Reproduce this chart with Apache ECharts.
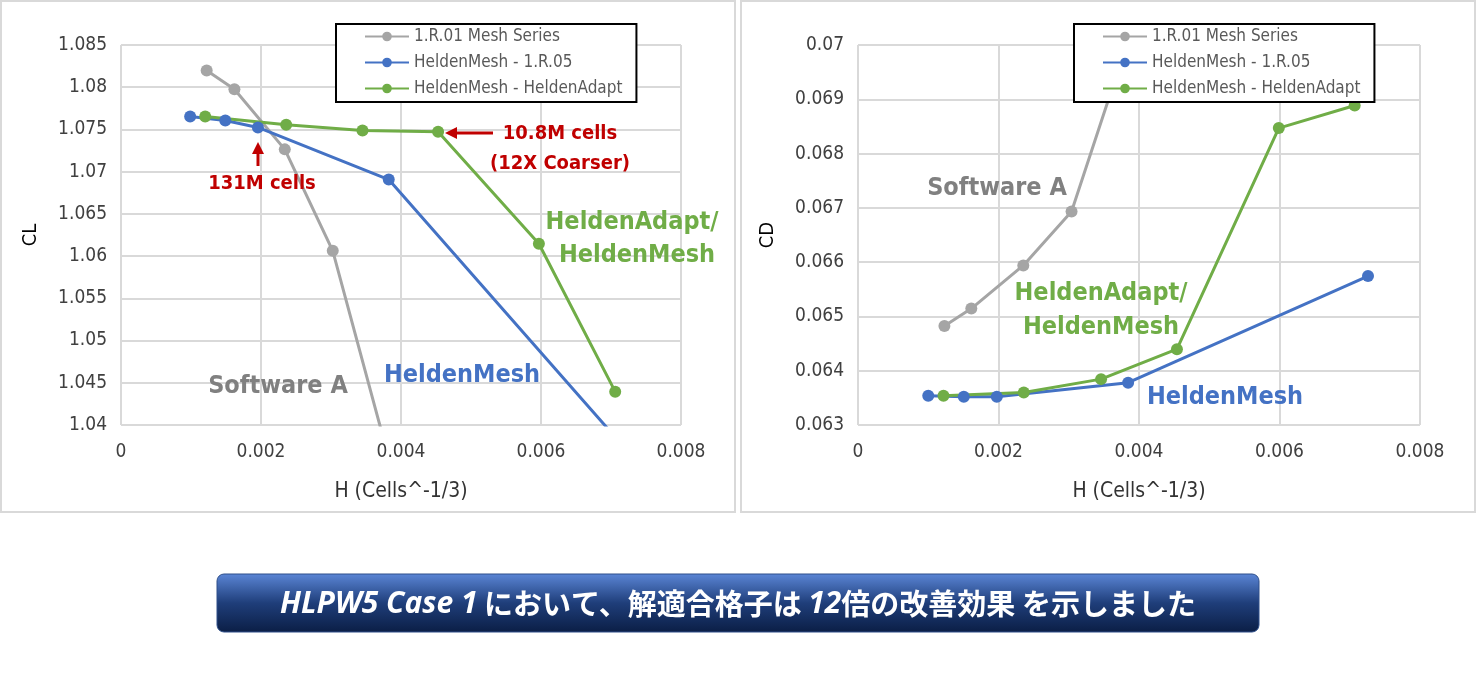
<!DOCTYPE html>
<html>
<head>
<meta charset="utf-8">
<script src="https://cdn.jsdelivr.net/npm/echarts@6/dist/echarts.min.js"></script>
<style>html,body{margin:0;padding:0;background:#fff}#main{width:1477px;height:700px}</style>
</head>
<body>
<div id="main"></div>
<script>
var seriesNames = ["1.R.01 Mesh Series", "HeldenMesh - 1.R.05", "HeldenMesh - HeldenAdapt"];
var colors = ["#A5A5A5", "#4472C4", "#70AD47"];
// CL vs H
var clGray = [[0.001224, 1.08197], [0.00162, 1.07976], [0.00234, 1.07264], [0.003025, 1.06063], [0.005, 1.0]];
var clBlue = [[0.000988, 1.07654], [0.00149, 1.07606], [0.001956, 1.07524], [0.003825, 1.06906], [0.00797, 1.03]];
var clGreen = [[0.001203, 1.07654], [0.00236, 1.07555], [0.00345, 1.07488], [0.00453, 1.07473], [0.00597, 1.06146], [0.00706, 1.04395]];
// CD vs H
var cdGray = [[0.00123, 0.064825], [0.001613, 0.065144], [0.002353, 0.06594], [0.00304, 0.066932], [0.0040, 0.0707]];
var cdBlue = [[0.001, 0.06354], [0.001506, 0.06352], [0.001976, 0.06352], [0.003845, 0.06378], [0.00726, 0.065744]];
var cdGreen = [[0.001217, 0.06354], [0.00236, 0.0636], [0.00346, 0.063845], [0.00454, 0.064396], [0.00599, 0.068469], [0.00707, 0.068885]];

var font = "'Liberation Sans Narrow', 'DejaVu Sans Condensed', sans-serif";
var chart = echarts.init(document.getElementById("main"));

function mkSeries(name, color, data, idx) {
  return {
    name: name, type: "line", xAxisIndex: idx, yAxisIndex: idx, data: data,
    symbol: "circle", symbolSize: 12, clip: true,
    lineStyle: { color: color, width: 3 }, itemStyle: { color: color }
  };
}
function xAx(idx) {
  return {
    gridIndex: idx, type: "value", min: 0, max: 0.008, interval: 0.002,
    name: "H (Cells^-1/3)", nameLocation: "middle", nameGap: 56,
    nameTextStyle: { fontFamily: font, fontSize: 21, color: "#333" },
    axisLine: { show: false }, axisTick: { show: false },
    splitLine: { lineStyle: { color: "#D9D9D9", width: 2 } },
    axisLabel: { fontFamily: font, fontSize: 19, color: "#404040", margin: 18,
      formatter: function (v) { return v === 0 ? "0" : v.toFixed(3); } }
  };
}
function yAx(idx, name, min, max, iv) {
  return {
    gridIndex: idx, type: "value", min: min, max: max, interval: iv,
    name: name, nameLocation: "middle", nameGap: 80, nameRotate: 90,
    nameTextStyle: { fontFamily: font, fontSize: 20, color: "#000" },
    axisLine: { show: false }, axisTick: { show: false },
    splitLine: { lineStyle: { color: "#D9D9D9", width: 2 } },
    axisLabel: { fontFamily: font, fontSize: 19, color: "#404040", margin: 14,
      formatter: function (v) { return String(parseFloat(v.toFixed(3))); } }
  };
}
function legend(left) {
  return {
    left: left, top: 24, width: 300, orient: "vertical", itemGap: 9,
    borderColor: "#000", borderWidth: 2, backgroundColor: "#fff",
    padding: [4, 14, 5, 28], itemWidth: 44, itemHeight: 12,
    textStyle: { fontFamily: font, fontSize: 17, color: "#595959" },
    data: seriesNames
  };
}
function txt(x, y, s, color, size) {
  return { type: "text", z: 100,
    style: { x: x, y: y, text: s, fill: color, font: "bold " + size + "px " + font,
      textAlign: "center", textVerticalAlign: "middle" } };
}
var red = "#C00000";

var option = {
  animation: false,
  grid: [
    { left: 121, top: 45, width: 560, height: 380 },
    { left: 858, top: 45, width: 562, height: 380 }
  ],
  xAxis: [xAx(0), xAx(1)],
  yAxis: [yAx(0, "CL", 1.04, 1.085, 0.005), yAx(1, "CD", 0.063, 0.07, 0.001)],
  legend: [legend(336), legend(1074)],
  series: [
    mkSeries(seriesNames[0], colors[0], clGray, 0),
    mkSeries(seriesNames[1], colors[1], clBlue, 0),
    mkSeries(seriesNames[2], colors[2], clGreen, 0),
    mkSeries(seriesNames[0], colors[0], cdGray, 1),
    mkSeries(seriesNames[1], colors[1], cdBlue, 1),
    mkSeries(seriesNames[2], colors[2], cdGreen, 1)
  ],
  graphic: [
    { type: "rect", shape: { x: 1, y: 1, width: 734, height: 511 }, style: { fill: "none", stroke: "#D9D9D9", lineWidth: 2 }, z: -1 },
    { type: "rect", shape: { x: 741, y: 1, width: 734, height: 511 }, style: { fill: "none", stroke: "#D9D9D9", lineWidth: 2 }, z: -1 },
    // arrows
    { type: "line", shape: { x1: 493, y1: 133, x2: 455, y2: 133 }, style: { stroke: red, lineWidth: 3 }, z: 100 },
    { type: "polygon", shape: { points: [[445, 133], [457, 127], [457, 139]] }, style: { fill: red }, z: 100 },
    { type: "line", shape: { x1: 258, y1: 166, x2: 258, y2: 152 }, style: { stroke: red, lineWidth: 3 }, z: 100 },
    { type: "polygon", shape: { points: [[258, 142], [252, 154], [264, 154]] }, style: { fill: red }, z: 100 },
    txt(560, 134, "10.8M cells", red, 20),
    txt(560, 164, "(12X Coarser)", red, 20),
    txt(262, 184, "131M cells", red, 20),
    txt(632, 222, "HeldenAdapt/", colors[2], 25),
    txt(637, 255, "HeldenMesh", colors[2], 25),
    txt(278, 386, "Software A", "#808080", 25),
    txt(462, 375, "HeldenMesh", colors[1], 25),
    txt(997, 188, "Software A", "#808080", 25),
    txt(1101, 293, "HeldenAdapt/", colors[2], 25),
    txt(1101, 327, "HeldenMesh", colors[2], 25),
    txt(1225, 397, "HeldenMesh", colors[1], 25),
    // banner
    { type: "rect", shape: { x: 217, y: 574, width: 1042, height: 58, r: 7 },
      style: { stroke: "#2E4F8A", lineWidth: 1,
        fill: new echarts.graphic.LinearGradient(0, 0, 0, 1, [
          { offset: 0, color: "#5B86D6" }, { offset: 0.5, color: "#1F3E7A" }, { offset: 1, color: "#0B1E45" }]) } },
    { type: "text", z: 100,
      style: {
        x: 738, y: 604, textAlign: "center", textVerticalAlign: "middle",
        text: "{i|HLPW5 Case 1}  {n|において、解適合格子は}  {i|12}{n|倍の改善効果 を示しました}",
        rich: {
          i: { fill: "#fff", font: "italic bold 30px 'Open Sans', sans-serif" },
          n: { fill: "#fff", font: "bold 29px 'Noto Sans CJK JP', sans-serif" }
        }
      } }
  ]
};
chart.setOption(option);
window.addEventListener("resize", chart.resize);
</script>
</body>
</html>
